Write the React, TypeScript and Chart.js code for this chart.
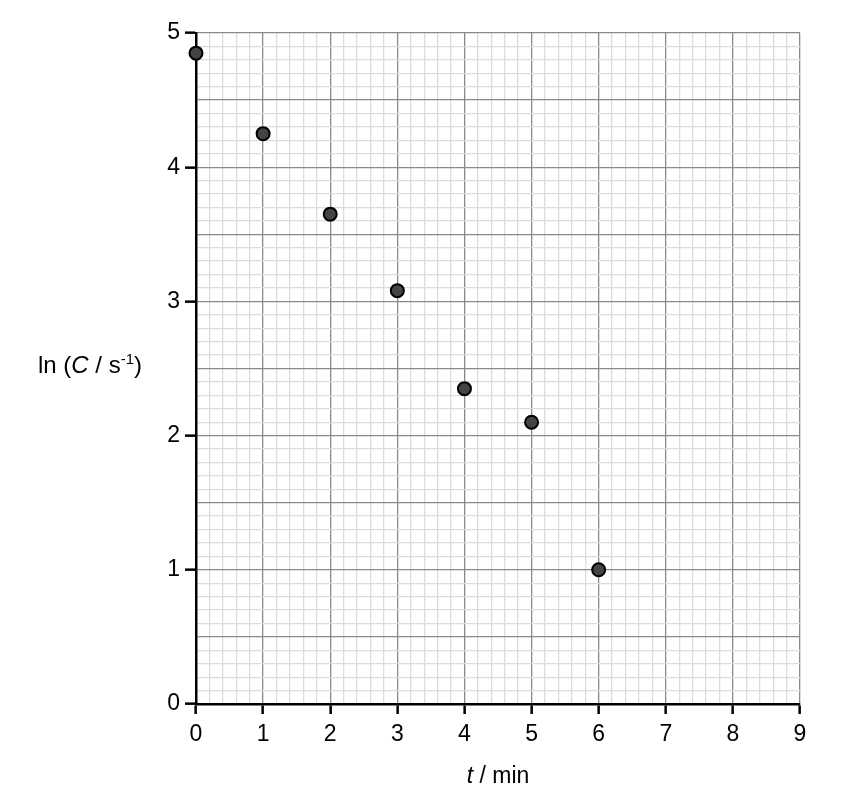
import { useEffect, useRef } from 'react'
import { Chart, registerables } from 'chart.js'

Chart.register(...registerables)

// data
const times = [0, 1, 2, 3, 4, 5, 6]
const lnValues = [4.85, 4.25, 3.65, 3.08, 2.35, 2.1, 1.0]

const FONT = 'Arial, "Liberation Sans", sans-serif'

const isMultiple = (v: number, step: number) => Math.abs(v / step - Math.round(v / step)) < 1e-6

// axis titles need italics and a superscript, so draw them by hand
const axisTitles = {
  id: 'axisTitles',
  afterDraw(chart: Chart) {
    const { ctx, chartArea } = chart
    ctx.save()
    ctx.fillStyle = '#000'
    ctx.textBaseline = 'alphabetic'

    // x title: "t / min"
    const cx = (chartArea.left + chartArea.right) / 2
    const xBase = 783
    ctx.font = `italic 23px ${FONT}`
    const tW = ctx.measureText('t').width
    ctx.font = `23px ${FONT}`
    const restW = ctx.measureText(' / min').width
    let x = cx - (tW + restW) / 2
    ctx.font = `italic 23px ${FONT}`
    ctx.fillText('t', x, xBase)
    x += tW
    ctx.font = `23px ${FONT}`
    ctx.fillText(' / min', x, xBase)

    // y title: "ln (C / s-1)"
    let yx = 38
    const yBase = 373
    const parts: [string, string, number][] = [
      ['ln (', `24px ${FONT}`, 0],
      ['C', `italic 24px ${FONT}`, 0],
      [' / s', `24px ${FONT}`, 0],
      ['-1', `15px ${FONT}`, -9],
      [')', `24px ${FONT}`, 0],
    ]
    for (const [txt, font, dy] of parts) {
      ctx.font = font
      ctx.fillText(txt, yx, yBase + dy)
      yx += ctx.measureText(txt).width
    }
    ctx.restore()
  },
}

export default function App() {
  const canvasRef = useRef<HTMLCanvasElement>(null)
  const chartRef = useRef<Chart | null>(null)

  useEffect(() => {
    if (!canvasRef.current) return
    if (chartRef.current) chartRef.current.destroy()

    chartRef.current = new Chart(canvasRef.current, {
      type: 'scatter',
      data: {
        datasets: [
          {
            label: 'ln C',
            data: times.map((t, i) => ({ x: t, y: lnValues[i] })),
            backgroundColor: '#444444',
            borderColor: '#000000',
            borderWidth: 2,
            pointRadius: 6.5,
            clip: false,
          },
        ],
      },
      options: {
        animation: false,
        responsive: true,
        maintainAspectRatio: false,
        layout: { padding: { top: 33, right: 54, left: 0, bottom: 0 } },
        plugins: {
          legend: { display: false },
          tooltip: { enabled: false },
        },
        scales: {
          x: {
            type: 'linear',
            min: 0,
            max: 9,
            afterFit: (scale: any) => {
              scale.height = 106
            },
            afterBuildTicks: (scale: any) => {
              const ticks = []
              for (let i = 0; i <= 45; i++) ticks.push({ value: i / 5 })
              scale.ticks = ticks
            },
            ticks: {
              autoSkip: false,
              maxRotation: 0,
              padding: 7,
              color: '#000',
              font: { family: FONT, size: 23 },
              callback: (v: any) => (isMultiple(Number(v), 1) ? String(Math.round(Number(v))) : ''),
            },
            grid: {
              color: (c: any) => (isMultiple(c.tick.value, 1) ? '#8a8a8a' : '#dcdcdc'),
              lineWidth: 1.3,
              tickColor: (c: any) => (isMultiple(c.tick.value, 1) ? '#000' : 'rgba(0,0,0,0)'),
              tickLength: 10,
              tickWidth: 2.5,
            },
            border: { color: '#000', width: 2.5 },
          },
          y: {
            type: 'linear',
            min: 0,
            max: 5,
            afterFit: (scale: any) => {
              scale.width = 196
            },
            afterBuildTicks: (scale: any) => {
              const ticks = []
              for (let i = 0; i <= 50; i++) ticks.push({ value: i / 10 })
              scale.ticks = ticks
            },
            ticks: {
              autoSkip: false,
              padding: 5,
              color: '#000',
              font: { family: FONT, size: 23 },
              callback: (v: any) => (isMultiple(Number(v), 1) ? String(Math.round(Number(v))) : ''),
            },
            grid: {
              color: (c: any) => (isMultiple(c.tick.value, 0.5) ? '#8a8a8a' : '#dcdcdc'),
              lineWidth: 1.3,
              tickColor: (c: any) => (isMultiple(c.tick.value, 1) ? '#000' : 'rgba(0,0,0,0)'),
              tickLength: 11,
              tickWidth: 2.5,
            },
            border: { color: '#000', width: 2.5 },
          },
        },
      },
      plugins: [axisTitles],
    })

    return () => {
      if (chartRef.current) chartRef.current.destroy()
      chartRef.current = null
    }
  }, [])

  return (
    <div style={{ position: 'absolute', left: 0, top: 0, width: 854, height: 810, background: '#fff' }}>
      <canvas ref={canvasRef} />
    </div>
  )
}
